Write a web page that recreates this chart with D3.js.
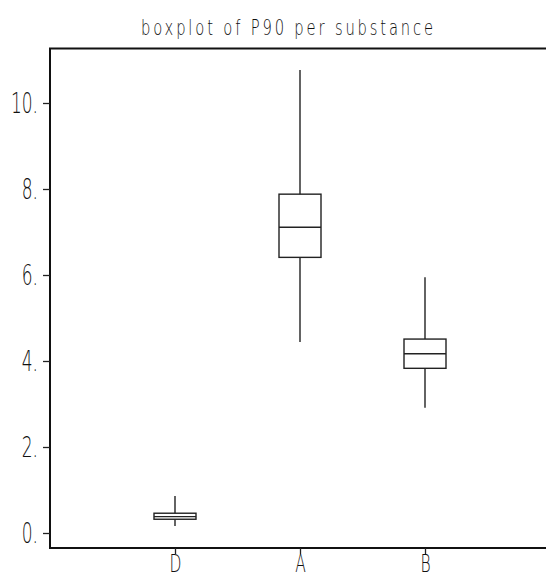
<!DOCTYPE html>
<html>
<head>
<meta charset="utf-8">
<script src="https://cdn.jsdelivr.net/npm/d3@7"></script>
<style>
  html, body { margin: 0; padding: 0; background: #fff; }
  svg { display: block; }
  text { font-family: "DejaVu Sans", sans-serif; font-weight: 200; fill: #111; }
</style>
</head>
<body>
<script>
// P90 distribution per substance
const substances = ["D", "A", "B"];
const whiskerLow  = [0.16, 4.44, 2.91];
const q1          = [0.32, 6.41, 3.83];
const median      = [0.38, 7.11, 4.17];
const q3          = [0.46, 7.88, 4.51];
const whiskerHigh = [0.86, 10.77, 5.95];
const yTicks = [0, 2, 4, 6, 8, 10];
const title = "boxplot of P90 per substance";

const W = 546, H = 574;
const frame = { left: 50, top: 48.5, bottom: 548, right: W };
const squeeze = 0.62; // condensed lettering

const svg = d3.select("body").append("svg").attr("width", W).attr("height", H);

const y = d3.scaleLinear().domain([0, 10]).range([533, 103]);
const x = d3.scalePoint().domain(substances).range([175, 425]);
const boxW = 42;

// frame: top, left and bottom lines
svg.append("path")
  .attr("d", `M${frame.right},${frame.top}H${frame.left}V${frame.bottom}H${frame.right}`)
  .attr("fill", "none").attr("stroke", "#111").attr("stroke-width", 2);

// y axis
const yAxis = d3.axisLeft(y).tickValues(yTicks).tickSize(7).tickPadding(5)
  .tickFormat(d => d + ".");
const gy = svg.append("g").attr("transform", `translate(${frame.left},0)`).call(yAxis);
gy.select(".domain").remove();
gy.selectAll(".tick line").attr("stroke", "#222").attr("stroke-width", 1.3);
gy.selectAll(".tick text")
  .attr("x", 0).attr("dy", "0.36em")
  .attr("transform", `translate(-12,0) scale(${squeeze},1)`)
  .attr("font-size", 27.5)
  .style("font-family", null).attr("fill", "#111");

// x axis
const xAxis = d3.axisBottom(x).tickSize(6).tickPadding(0);
const gx = svg.append("g").attr("transform", `translate(0,${frame.bottom})`).call(xAxis);
gx.select(".domain").remove();
gx.selectAll(".tick line").attr("stroke", "#222").attr("stroke-width", 1.3);
gx.selectAll(".tick text")
  .attr("y", 0).attr("dy", 0)
  .attr("transform", `translate(0,24) scale(${squeeze},1)`)
  .attr("font-size", 25)
  .style("font-family", null).attr("fill", "#111");

// title
svg.append("text")
  .attr("transform", `translate(287,35) scale(0.72,1)`)
  .attr("text-anchor", "middle")
  .attr("font-size", 20.5)
  .attr("textLength", 292 / 0.72)
  .attr("lengthAdjust", "spacing")
  .text(title);

// boxes
const data = substances.map((s, i) => ({
  s, lo: whiskerLow[i], q1: q1[i], med: median[i], q3: q3[i], hi: whiskerHigh[i]
}));

const g = svg.append("g").attr("fill", "none").attr("stroke", "#222").attr("stroke-width", 1.4);
const b = g.selectAll("g.box").data(data).join("g").attr("class", "box");

b.append("line")
  .attr("x1", d => x(d.s)).attr("x2", d => x(d.s))
  .attr("y1", d => y(d.hi)).attr("y2", d => y(d.q3));
b.append("line")
  .attr("x1", d => x(d.s)).attr("x2", d => x(d.s))
  .attr("y1", d => y(d.q1)).attr("y2", d => y(d.lo));
b.append("rect")
  .attr("x", d => x(d.s) - boxW / 2).attr("width", boxW)
  .attr("y", d => y(d.q3)).attr("height", d => y(d.q1) - y(d.q3));
b.append("line")
  .attr("x1", d => x(d.s) - boxW / 2).attr("x2", d => x(d.s) + boxW / 2)
  .attr("y1", d => y(d.med)).attr("y2", d => y(d.med));
</script>
</body>
</html>
